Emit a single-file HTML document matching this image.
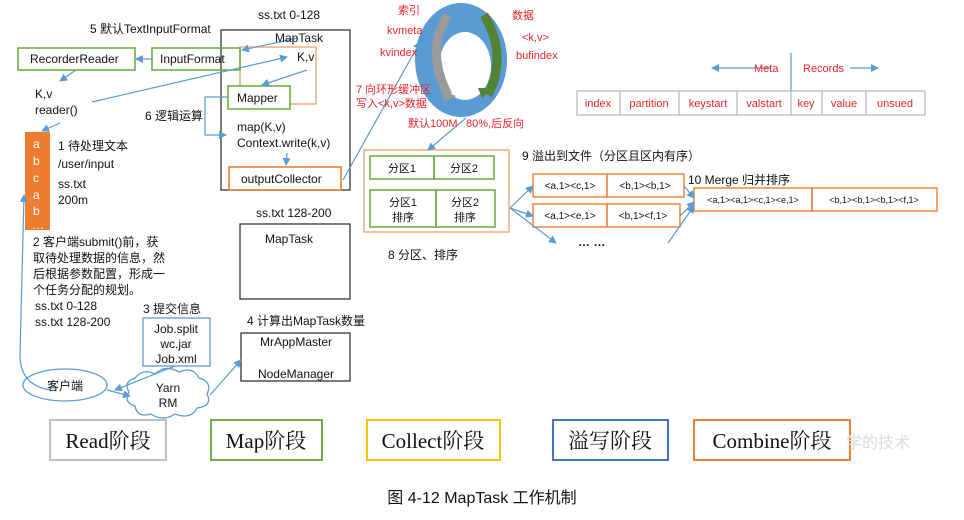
<!DOCTYPE html>
<html><head><meta charset="utf-8"><style>
body{margin:0;background:#fff;}
svg{display:block;}
text{font-family:"Liberation Sans","Noto Sans CJK SC",sans-serif;font-size:12px;fill:#111;}
.r{fill:#e8252a;font-size:11px;}
.s{font-size:10px;}
.lg{font-family:"Liberation Serif","Noto Serif CJK SC",serif;font-size:21px;}
</style></head><body>
<svg width="964" height="520" viewBox="0 0 964 520">
<defs><marker id="a" markerWidth="8" markerHeight="8" refX="7" refY="4" orient="auto" markerUnits="userSpaceOnUse"><path d="M0,0 L8,4 L0,8 z" fill="#5b9bd5"/></marker></defs>
<g fill="none" stroke="#5b9bd5" stroke-width="1.2">
<!-- ring -->
<ellipse cx="461" cy="60" rx="46" ry="57" fill="#5b9bd5" stroke="none"/>
<ellipse cx="465" cy="66" rx="26" ry="34" fill="#fff" stroke="none"/>
</g>
<path d="M448 15 Q425 50 448 95" stroke="#9a9a9a" stroke-width="9" fill="none"/>
<path d="M442 90 L456 96 L444 102 z" fill="#9a9a9a"/>
<path d="M484 15 Q508 55 488 95" stroke="#548235" stroke-width="9" fill="none"/>
<path d="M494 88 L482 98 L478 88 z" fill="#548235"/>
<g fill="none" stroke-width="1.3">
<rect x="221" y="30" width="129" height="160" stroke="#333"/>
<rect x="240" y="47" width="76" height="57" stroke="#f4b183" stroke-width="1.6"/>
<rect x="228" y="86" width="62" height="23" stroke="#70ad47" stroke-width="1.6" fill="#fff"/>
<rect x="229" y="167" width="112" height="23" stroke="#ed7d31" stroke-width="1.6"/>
<rect x="152" y="48" width="88" height="22" stroke="#70ad47" stroke-width="1.6"/>
<rect x="18" y="48" width="117" height="22" stroke="#70ad47" stroke-width="1.6"/>
<rect x="240" y="224" width="110" height="75" stroke="#333"/>
<rect x="143" y="318" width="67" height="48" stroke="#5b9bd5"/>
<rect x="241" y="333" width="109" height="48" stroke="#333"/>
<rect x="364" y="150" width="145" height="82" stroke="#f4b183" stroke-width="1.6"/>
<rect x="370" y="156" width="64" height="23" stroke="#70ad47" stroke-width="1.6"/>
<rect x="434" y="156" width="60" height="23" stroke="#70ad47" stroke-width="1.6"/>
<rect x="370" y="190" width="66" height="37" stroke="#70ad47" stroke-width="1.6"/>
<rect x="436" y="190" width="59" height="37" stroke="#70ad47" stroke-width="1.6"/>
<rect x="533" y="174" width="74" height="23" stroke="#ed7d31" stroke-width="1.4"/>
<rect x="607" y="174" width="77" height="23" stroke="#ed7d31" stroke-width="1.4"/>
<rect x="533" y="204" width="74" height="23" stroke="#ed7d31" stroke-width="1.4"/>
<rect x="607" y="204" width="73" height="23" stroke="#ed7d31" stroke-width="1.4"/>
<rect x="694" y="188" width="118" height="23" stroke="#ed7d31" stroke-width="1.4"/>
<rect x="812" y="188" width="125" height="23" stroke="#ed7d31" stroke-width="1.4"/>
<rect x="577" y="91" width="348" height="24" stroke="#bbb"/>
<path d="M620 91v24M679 91v24M737 91v24M791 91v24M822 91v24M866 91v24" stroke="#bbb"/>
<path d="M791 53v38" stroke="#5b9bd5"/>
<ellipse cx="65" cy="385" rx="42" ry="16" stroke="#5b9bd5"/>
<path d="M135 378 q8-10 20-4 q10-10 24-2 q14-6 20 6 q14 4 8 16 q6 12-10 14 q-6 12-22 6 q-12 8-24 0 q-14 4-16-8 q-12-4-6-14 q-6-10 6-14z" stroke="#5b9bd5" fill="#fff"/>
<rect x="50" y="420" width="116" height="40" stroke="#bfbfbf" stroke-width="2"/>
<rect x="211" y="420" width="111" height="40" stroke="#70ad47" stroke-width="2"/>
<rect x="367" y="420" width="133" height="40" stroke="#ffc000" stroke-width="2"/>
<rect x="553" y="420" width="115" height="40" stroke="#4472c4" stroke-width="2"/>
<rect x="694" y="420" width="156" height="40" stroke="#ed7d31" stroke-width="2"/>
</g>
<rect x="25" y="132" width="25" height="98" fill="#ed7d31"/>
<g fill="none" stroke="#5b9bd5" stroke-width="1.2" marker-end="url(#a)">
<path d="M298 38 L242 50"/>
<path d="M152 59 L136 59"/>
<path d="M76 70 L60 81"/>
<path d="M92 102 L287 57"/>
<path d="M307 70 L262 85"/>
<path d="M60 123 L42 131"/>
<path d="M228 97 H205 V135 H226"/>
<path d="M287 153 L286 165"/>
<path d="M343 180 L420 42"/>
<path d="M466 118 L428 150"/>
<path d="M50 390 Q20 385 20 355 L24 195"/>
<path d="M175 366 L115 390"/>
<path d="M107 390 L130 396"/>
<path d="M210 395 L241 360"/>
<path d="M770 68 L712 68"/>
<path d="M850 68 L878 68"/>
<path d="M510 208 L533 186"/>
<path d="M510 208 L533 216"/>
<path d="M510 208 L556 243"/>
<path d="M684 186 L694 198"/>
<path d="M680 216 L694 202"/>
<path d="M668 243 L694 206"/>
</g>
<g fill="#fff" style="font-size:11px">
<text x="33" y="148" style="fill:#fff">a</text><text x="33" y="165" style="fill:#fff">b</text><text x="33" y="182" style="fill:#fff">c</text><text x="33" y="199" style="fill:#fff">a</text><text x="33" y="215" style="fill:#fff">b</text><text x="32" y="229" style="fill:#fff">…</text>
</g>
<text x="258" y="19">ss.txt 0-128</text>
<text x="90" y="33">5 默认TextInputFormat</text>
<text x="275" y="42">MapTask</text>
<text x="297" y="61">K,v</text>
<text x="30" y="63">RecorderReader</text>
<text x="160" y="63">InputFormat</text>
<text x="237" y="102">Mapper</text>
<text x="35" y="98">K,v</text>
<text x="35" y="114">reader()</text>
<text x="145" y="120">6 逻辑运算</text>
<text x="237" y="131">map(K,v)</text>
<text x="237" y="147">Context.write(k,v)</text>
<text x="241" y="183">outputCollector</text>
<text x="58" y="150">1 待处理文本</text>
<text x="58" y="168">/user/input</text>
<text x="58" y="188">ss.txt</text>
<text x="58" y="204">200m</text>
<text x="256" y="217">ss.txt 128-200</text>
<text x="265" y="243">MapTask</text>
<text x="33" y="246">2 客户端submit()前，获</text>
<text x="33" y="262">取待处理数据的信息，然</text>
<text x="33" y="278">后根据参数配置，形成一</text>
<text x="33" y="294">个任务分配的规划。</text>
<text x="35" y="310">ss.txt  0-128</text>
<text x="35" y="326">ss.txt  128-200</text>
<text x="143" y="313">3 提交信息</text>
<text x="176" y="333" text-anchor="middle">Job.split</text>
<text x="176" y="348" text-anchor="middle">wc.jar</text>
<text x="176" y="363" text-anchor="middle">Job.xml</text>
<text x="247" y="325">4 计算出MapTask数量</text>
<text x="296" y="346" text-anchor="middle">MrAppMaster</text>
<text x="296" y="378" text-anchor="middle">NodeManager</text>
<text x="65" y="390" text-anchor="middle">客户端</text>
<text x="168" y="392" text-anchor="middle">Yarn</text>
<text x="168" y="407" text-anchor="middle">RM</text>
<text class="r" x="398" y="14">索引</text>
<text class="r" x="387" y="34">kvmeta</text>
<text class="r" x="380" y="56">kvindex</text>
<text class="r" x="512" y="19">数据</text>
<text class="r" x="522" y="41">&lt;k,v&gt;</text>
<text class="r" x="516" y="59">bufindex</text>
<text class="r" x="356" y="93">7 向环形缓冲区</text>
<text class="r" x="356" y="107">写入&lt;k,v&gt;数据</text>
<text class="r" x="408" y="127">默认100M</text>
<text class="r" x="466" y="127">80%,后反向</text>
<text class="r" x="754" y="72">Meta</text>
<text class="r" x="803" y="72">Records</text>
<g class="r" style="font-size:11px">
<text class="r" x="598" y="107" text-anchor="middle">index</text>
<text class="r" x="649" y="107" text-anchor="middle">partition</text>
<text class="r" x="708" y="107" text-anchor="middle">keystart</text>
<text class="r" x="764" y="107" text-anchor="middle">valstart</text>
<text class="r" x="806" y="107" text-anchor="middle">key</text>
<text class="r" x="844" y="107" text-anchor="middle">value</text>
<text class="r" x="895" y="107" text-anchor="middle">unsued</text>
</g>
<text x="402" y="172" text-anchor="middle" style="font-size:11px">分区1</text>
<text x="464" y="172" text-anchor="middle" style="font-size:11px">分区2</text>
<text x="403" y="206" text-anchor="middle" style="font-size:11px">分区1</text>
<text x="403" y="221" text-anchor="middle" style="font-size:11px">排序</text>
<text x="465" y="206" text-anchor="middle" style="font-size:11px">分区2</text>
<text x="465" y="221" text-anchor="middle" style="font-size:11px">排序</text>
<text x="388" y="259">8 分区、排序</text>
<text x="522" y="160">9 溢出到文件（分区且区内有序）</text>
<text x="688" y="184">10 Merge 归并排序</text>
<text class="s" x="570" y="189" text-anchor="middle">&lt;a,1&gt;&lt;c,1&gt;</text>
<text class="s" x="645" y="189" text-anchor="middle">&lt;b,1&gt;&lt;b,1&gt;</text>
<text class="s" x="570" y="219" text-anchor="middle">&lt;a,1&gt;&lt;e,1&gt;</text>
<text class="s" x="643" y="219" text-anchor="middle">&lt;b,1&gt;&lt;f,1&gt;</text>
<text class="s" x="753" y="203" text-anchor="middle" style="font-size:9px">&lt;a,1&gt;&lt;a,1&gt;&lt;c,1&gt;&lt;e,1&gt;</text>
<text class="s" x="874" y="203" text-anchor="middle" style="font-size:9px">&lt;b,1&gt;&lt;b,1&gt;&lt;b,1&gt;&lt;f,1&gt;</text>
<text x="578" y="246" style="font-weight:bold">…  …</text>
<text class="lg" x="108" y="448" text-anchor="middle">Read阶段</text>
<text class="lg" x="266" y="448" text-anchor="middle">Map阶段</text>
<text class="lg" x="433" y="448" text-anchor="middle">Collect阶段</text>
<text class="lg" x="610" y="448" text-anchor="middle">溢写阶段</text>
<text class="lg" x="772" y="448" text-anchor="middle">Combine阶段</text>
<text x="878" y="448" text-anchor="middle" style="fill:#ddd;font-size:16px">学的技术</text>
<text x="482" y="503" text-anchor="middle" style="font-size:16px">图 4-12   MapTask 工作机制</text>
</svg>
</body></html>
